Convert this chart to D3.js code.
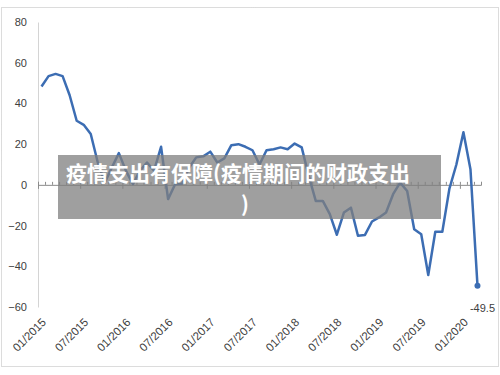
<!DOCTYPE html>
<html>
<head>
<meta charset="utf-8">
<script src="https://cdn.jsdelivr.net/npm/d3@7"></script>
<style>
  body { margin: 0; background: #fff; }
  .tick text { font-family: "Liberation Sans", Arial, sans-serif; }
</style>
</head>
<body>
<div class="chart"></div>
<script>
var svgWidth = 500;
var svgHeight = 375;

// monthly values, 01/2015 .. 03/2020
var months = d3.range(63);
var values = [
  48.3, 53.4, 54.5, 53.4, 44, 31.5, 29.5, 25, 11, 1, 8.5, 15.6,
  7, 0.3, 7, 11, 7, 18.7, -7, 0.3, 0.5, 8.5, 13.5, 14,
  16.3, 11, 13, 19.5, 20, 18.7, 17, 10, 17, 17.5, 18.4, 17.5,
  20.3, 18.4, 4.4, -7.9, -7.9, -14.4, -24.5, -13.6, -11.2, -25, -24.6, -18,
  -16, -13.6, -4.6, 1.1, -3, -21.8, -24.3, -44.3, -23, -23, -2, 10,
  25.8, 7.7, -49.5
];
var xTickLabels = ["01/2015", "07/2015", "01/2016", "07/2016", "01/2017", "07/2017",
  "01/2018", "07/2018", "01/2019", "07/2019", "01/2020"];
var yTicks = [-60, -40, -20, 0, 20, 40, 60, 80];
var titleLine1 = "疫情支出有保障(疫情期间的财政支出";
var titleLine2 = ")";

var svg = d3.select(".chart")
  .append("svg")
  .attr("width", svgWidth)
  .attr("height", svgHeight);

// dotted frame
svg.append("rect")
  .attr("x", 1.5)
  .attr("y", 7.5)
  .attr("width", 497)
  .attr("height", 359)
  .attr("fill", "none")
  .attr("stroke", "#b8b8b8")
  .attr("stroke-dasharray", "1,1");

var x = d3.scaleLinear().domain([0, 63]).range([38, 481]);
var y = d3.scaleLinear().domain([-60, 80]).range([307, 22]);

// y axis
var yAxis = svg.append("g")
  .attr("transform", "translate(38,0)")
  .call(d3.axisLeft(y).tickValues(yTicks).tickSize(0).tickPadding(11));
yAxis.select(".domain").attr("stroke", "#d4d4d4");
yAxis.selectAll("text").attr("fill", "#404040").style("font-size", "11px");

// x axis at zero, minor ticks every month, major every six
var minor = svg.append("g")
  .attr("transform", `translate(0,${y(0)})`)
  .call(d3.axisBottom(x).tickValues(d3.range(64)).tickSize(-3).tickFormat(""));
minor.select(".domain").attr("stroke", "#8c8c8c");
minor.selectAll(".tick line").attr("stroke", "#8c8c8c");

var major = svg.append("g")
  .attr("transform", `translate(0,${y(0)})`)
  .call(d3.axisBottom(x).tickValues(d3.range(0, 64, 6)).tickSize(4).tickFormat(""));
major.select(".domain").remove();
major.selectAll(".tick line").attr("stroke", "#8c8c8c");

svg.selectAll(".xlabel")
  .data(xTickLabels)
  .enter()
  .append("text")
  .attr("class", "xlabel")
  .attr("transform", (d, i) => `translate(${x(i * 6) + 6},${320}) rotate(-45)`)
  .attr("text-anchor", "end")
  .attr("dy", "0.35em")
  .attr("fill", "#404040")
  .style("font-family", "Liberation Sans, Arial, sans-serif")
  .style("font-size", "11.5px")
  .text(d => d);

// line
var line = d3.line()
  .x((d, i) => x(months[i] + 0.5))
  .y(d => y(d));

svg.append("path")
  .datum(values)
  .attr("d", line)
  .attr("fill", "none")
  .attr("stroke", "#3c6db3")
  .attr("stroke-width", 2.5)
  .attr("stroke-linejoin", "round");

var last = values.length - 1;
svg.append("circle")
  .attr("cx", x(months[last] + 0.5))
  .attr("cy", y(values[last]))
  .attr("r", 3)
  .attr("fill", "#3c6db3");

svg.append("text")
  .attr("x", x(months[last] + 0.5) + 5)
  .attr("y", y(values[last]) + 26)
  .attr("text-anchor", "middle")
  .attr("fill", "#404040")
  .style("font-family", "Liberation Sans, Arial, sans-serif")
  .style("font-size", "11px")
  .text(values[last]);

// caption overlay
svg.append("rect")
  .attr("x", 58)
  .attr("y", 155)
  .attr("width", 383)
  .attr("height", 64)
  .attr("fill", "#7f7f7f")
  .attr("fill-opacity", 0.75);

svg.append("text")
  .attr("x", 238)
  .attr("y", 181)
  .attr("text-anchor", "middle")
  .attr("fill", "#fff")
  .style("font-family", "Noto Sans CJK SC, sans-serif")
  .style("font-weight", "bold")
  .style("font-size", "21px")
  .text(titleLine1);

svg.append("text")
  .attr("x", 245)
  .attr("y", 212)
  .attr("text-anchor", "middle")
  .attr("fill", "#fff")
  .style("font-family", "Noto Sans CJK SC, sans-serif")
  .style("font-weight", "bold")
  .style("font-size", "21px")
  .text(titleLine2);
</script>
</body>
</html>
